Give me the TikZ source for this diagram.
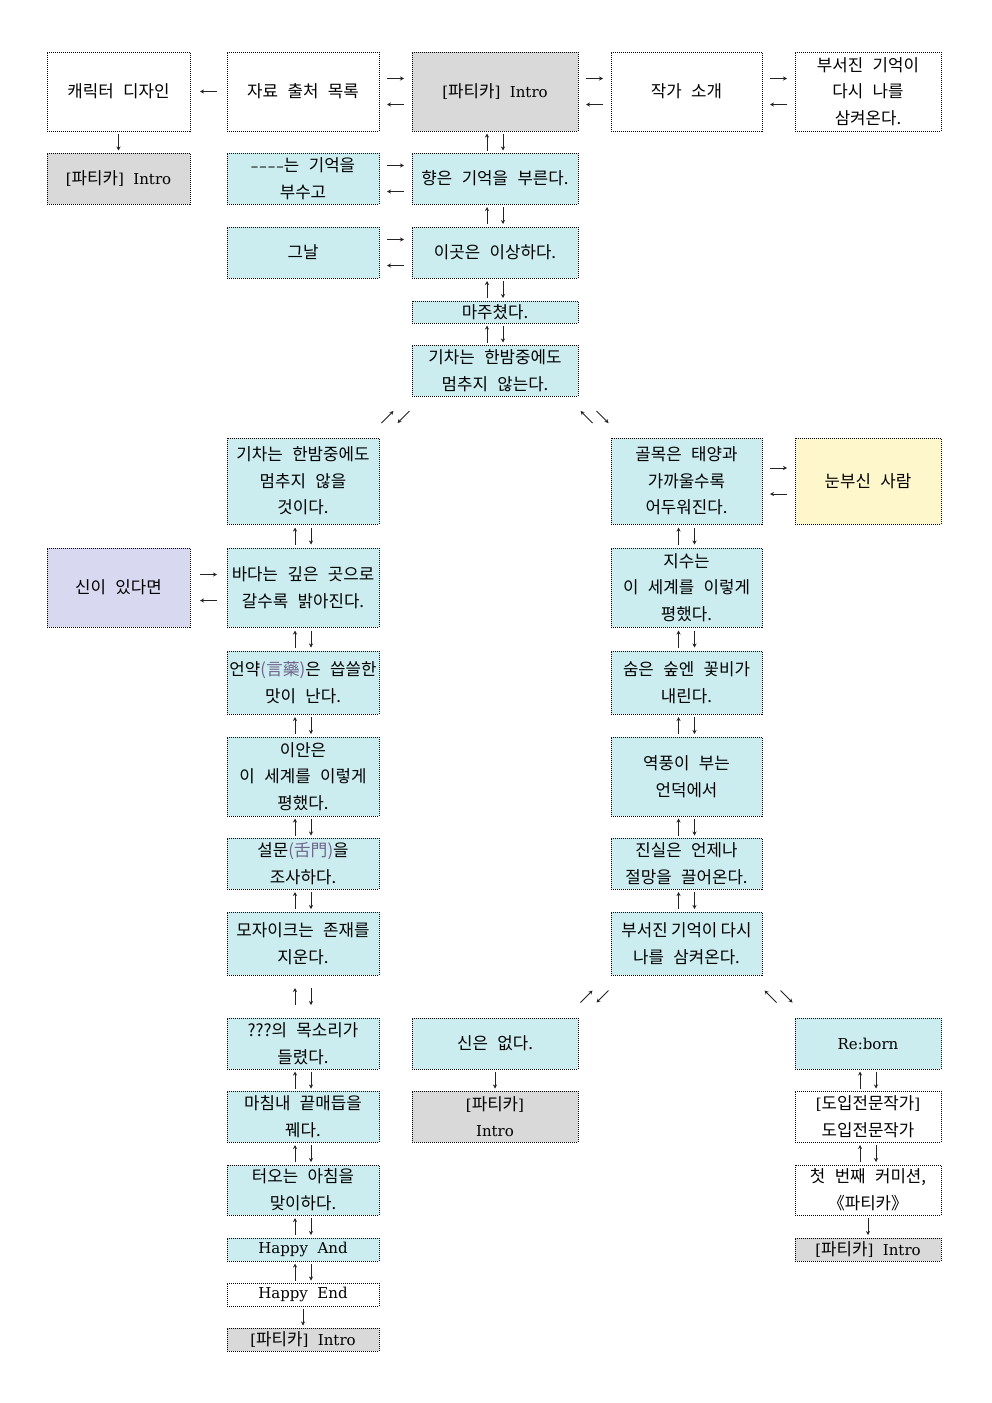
\documentclass[tikz,border=0pt]{standalone}
\usepackage{fontspec}
\setmainfont{Noto Sans CJK KR}[WordSpace=2.5]
\newfontfamily\latf{DejaVu Serif}[WordSpace=2,Scale=0.893]
\usetikzlibrary{calc,arrows.meta}
\definecolor{cy}{RGB}{204,237,240}
\definecolor{gr}{RGB}{217,217,217}
\definecolor{lav}{RGB}{216,216,240}
\definecolor{yel}{RGB}{255,247,204}
\definecolor{hjc}{RGB}{112,100,140}
\definecolor{arc}{RGB}{35,35,35}
\newcommand\hjt[1]{\textcolor{hjc}{#1}}
\newcommand\latn[1]{{\latf #1}}
\tikzset{
  box/.style={draw=black, line width=0.75pt, dash pattern=on 0.75pt off 0.75pt,
    align=center, inner sep=0pt, outer sep=0pt, font=\fontsize{12.6}{20}\selectfont},
  arr/.style={draw=arc, line width=0.6pt, -{Stealth[length=3pt,width=3pt]}},
}
% #1 name, #2 x1, #3 y1, #4 x2, #5 y2, #6 fill, #7 text  (pixel units)
\newcommand\mkbox[7]{\node[box, fill=#6, minimum width={(#4-#2)*0.75pt},
  minimum height={(#5-#3)*0.75pt}] (#1) at ({(#2+#4)/2},{(#3+#5)/2}) {#7};}
\newcommand\vpair[2]{%
  \coordinate (vm) at ($(#1.south)!0.5!(#2.north)$);
  \draw[arr] ($(vm)+(-8,8.5)$) -- ($(vm)+(-8,-8.5)$);
  \draw[arr] ($(vm)+(8,-8.5)$) -- ($(vm)+(8,8.5)$);}
\newcommand\hpair[2]{%
  \coordinate (hm) at ($(#1.east)!0.5!(#2.west)$);
  \draw[arr] ($(hm)+(-8.5,-13)$) -- ($(hm)+(8.5,-13)$);
  \draw[arr] ($(hm)+(8.5,13)$) -- ($(hm)+(-8.5,13)$);}
\newcommand\dnarr[2]{%
  \coordinate (dm) at ($(#1.south)!0.5!(#2.north)$);
  \draw[arr] ($(dm)+(0,-8.5)$) -- ($(dm)+(0,8.5)$);}
\newcommand\dleft[2]{%
  \coordinate (gm) at ($(#1.south west)!0.5!(#2.north east)$);
  \draw[arr] ($(gm)+(-14,6)$) -- ($(gm)+(-2,-6)$);
  \draw[arr] ($(gm)+(14,-6)$) -- ($(gm)+(2,6)$);}
\newcommand\dright[2]{%
  \coordinate (gm) at ($(#1.south east)!0.5!(#2.north west)$);
  \draw[arr] ($(gm)+(-2,6)$) -- ($(gm)+(-14,-6)$);
  \draw[arr] ($(gm)+(2,-6)$) -- ($(gm)+(14,6)$);}
\begin{document}
\begin{tikzpicture}[x=0.75pt,y=-0.75pt]
\fill[white] (0,0) rectangle (992,1403);
\path[use as bounding box] (0,0) rectangle (992,1403);
% top row
\mkbox{n1a}{47}{52}{190}{131}{white}{캐릭터 디자인}
\mkbox{n1b}{227}{52}{379}{131}{white}{자료 출처 목록}
\mkbox{n1c}{412}{52}{578}{131}{gr}{\latn{[}파티카\latn{] Intro}}
\mkbox{n1d}{611}{52}{762}{131}{white}{작가 소개}
\mkbox{n1e}{795}{52}{941}{131}{white}{부서진 기억이\\다시 나를\\삼켜온다.}
% row 2
\mkbox{n2a}{47}{153}{190}{204}{gr}{\latn{[}파티카\latn{] Intro}}
\mkbox{n2b}{227}{153}{379}{204}{cy}{\latn{–\kern0.8pt–\kern0.8pt–\kern0.8pt–}는 기억을\\부수고}
\mkbox{n2c}{412}{153}{578}{204}{cy}{향은 기억을 부른다.}
% row 3
\mkbox{n3b}{227}{227}{379}{278}{cy}{그날}
\mkbox{n3c}{412}{227}{578}{278}{cy}{이곳은 이상하다.}
\mkbox{n4c}{412}{301}{578}{323}{cy}{마주쳤다.}
\mkbox{n5c}{412}{345}{578}{396}{cy}{기차는 한밤중에도\\멈추지 않는다.}
% left branch
\mkbox{l1}{227}{438}{379}{524}{cy}{기차는 한밤중에도\\멈추지 않을\\것이다.}
\mkbox{la}{47}{548}{190}{627}{lav}{신이 있다면}
\mkbox{l2}{227}{548}{379}{627}{cy}{바다는 깊은 곳으로\\갈수록 밝아진다.}
\mkbox{l3}{227}{651}{379}{714}{cy}{언약\hjt{(言藥)}은 씁쓸한\\맛이 난다.}
\mkbox{l4}{227}{737}{379}{816}{cy}{이안은\\이 세계를 이렇게\\평했다.}
\mkbox{l5}{227}{838}{379}{889}{cy}{설문\hjt{(舌門)}을\\조사하다.}
\mkbox{l6}{227}{912}{379}{975}{cy}{모자이크는 존재를\\지운다.}
\mkbox{l7}{227}{1018}{379}{1069}{cy}{???의 목소리가\\들렸다.}
\mkbox{l8}{227}{1091}{379}{1142}{cy}{마침내 끝매듭을\\꿰다.}
\mkbox{l9}{227}{1165}{379}{1215}{cy}{터오는 아침을\\맞이하다.}
\mkbox{l10}{227}{1238}{379}{1261}{cy}{\latn{Happy And}}
\mkbox{l11}{227}{1283}{379}{1306}{white}{\latn{Happy End}}
\mkbox{l12}{227}{1328}{379}{1351}{gr}{\latn{[}파티카\latn{] Intro}}
% right branch
\mkbox{r1}{611}{438}{762}{524}{cy}{골목은 태양과\\가까울수록\\어두워진다.}
\mkbox{re}{795}{438}{941}{524}{yel}{눈부신 사람}
\mkbox{r2}{611}{548}{762}{627}{cy}{지수는\\이 세계를 이렇게\\평했다.}
\mkbox{r3}{611}{651}{762}{714}{cy}{숨은 숲엔 꽃비가\\내린다.}
\mkbox{r4}{611}{737}{762}{816}{cy}{역풍이 부는\\언덕에서}
\mkbox{r5}{611}{838}{762}{889}{cy}{진실은 언제나\\절망을 끌어온다.}
\mkbox{r6}{611}{912}{762}{975}{cy}{부서진\hspace{2.5pt}기억이\hspace{2.5pt}다시\\나를 삼켜온다.}
% bottom
\mkbox{cb}{412}{1018}{578}{1069}{cy}{신은 없다.}
\mkbox{cb2}{412}{1091}{578}{1142}{gr}{\latn{[}파티카\latn{]}\\\latn{Intro}}
\mkbox{eb}{795}{1018}{941}{1069}{cy}{\latn{Re:born}}
\mkbox{eb2}{795}{1091}{941}{1142}{white}{\latn{[}도입전문작가\latn{]}\\도입전문작가}
\mkbox{eb3}{795}{1165}{941}{1215}{white}{첫 번째 커미션,\\《파티카》}
\mkbox{eb4}{795}{1238}{941}{1261}{gr}{\latn{[}파티카\latn{] Intro}}
% arrows
\coordinate (hm) at ($(n1a.east)!0.5!(n1b.west)$);
\draw[arr] ($(hm)+(8.5,0)$) -- ($(hm)+(-8.5,0)$);
\hpair{n1b}{n1c}
\hpair{n1c}{n1d}
\hpair{n1d}{n1e}
\hpair{n2b}{n2c}
\hpair{n3b}{n3c}
\hpair{la}{l2}
\hpair{r1}{re}
\dnarr{n1a}{n2a}
\vpair{n1c}{n2c}
\vpair{n2c}{n3c}
\vpair{n3c}{n4c}
\vpair{n4c}{n5c}
\dleft{n5c}{l1}
\dright{n5c}{r1}
\vpair{l1}{l2}
\vpair{l2}{l3}
\vpair{l3}{l4}
\vpair{l4}{l5}
\vpair{l5}{l6}
\vpair{l6}{l7}
\vpair{l7}{l8}
\vpair{l8}{l9}
\vpair{l9}{l10}
\vpair{l10}{l11}
\dnarr{l11}{l12}
\vpair{r1}{r2}
\vpair{r2}{r3}
\vpair{r3}{r4}
\vpair{r4}{r5}
\vpair{r5}{r6}
\dleft{r6}{cb}
\dright{r6}{eb}
\dnarr{cb}{cb2}
\vpair{eb}{eb2}
\vpair{eb2}{eb3}
\dnarr{eb3}{eb4}
\end{tikzpicture}
\end{document}
